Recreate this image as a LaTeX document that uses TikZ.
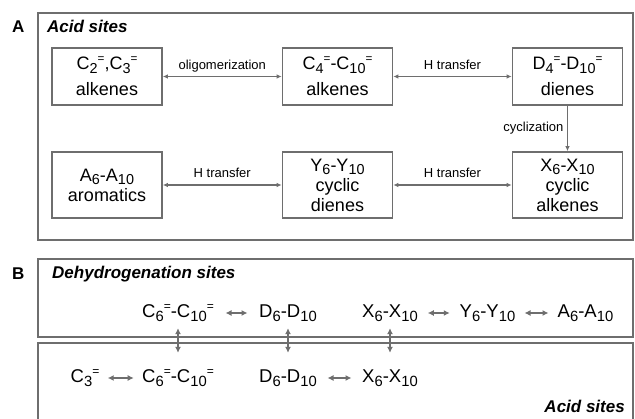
\documentclass[tikz,border=0pt]{standalone}
\usepackage{fontspec}
\setmainfont{Liberation Sans}
\usetikzlibrary{arrows.meta,calc}
\definecolor{edgegray}{RGB}{110,110,110}
\makeatletter
\newcommand\subfont{\fontsize{\fpeval{0.8*\f@size}}{\f@baselineskip}\selectfont}
\newcommand\supfont{\fontsize{\fpeval{0.65*\f@size}}{\f@baselineskip}\selectfont}
\makeatother
\newcommand\chem[3]{#1\raisebox{-0.4ex}{\subfont #2}\raisebox{0.75ex}{\supfont #3}}
\newcommand\chemsub[2]{#1\raisebox{-0.4ex}{\subfont #2}}
\tikzset{%
  panel/.style = {draw=edgegray, line width=1.8pt},%
  box/.style   = {shape=rectangle, draw=edgegray, line width=1.6pt,%
                  align=center, minimum width=110pt, inner sep=0pt,%
                  font=\fontsize{18}{20}\selectfont},%
  item/.style  = {inner sep=1pt, anchor=base, text height=15pt, text depth=5pt,%
                  font=\fontsize{18.5}{19}\selectfont},%
  lbl/.style   = {font=\fontsize{13}{15}\selectfont, text depth=3pt},%
  title/.style = {inner sep=0pt, font=\fontsize{17}{20}\selectfont\bfseries\itshape},%
  tag/.style   = {inner sep=0pt, font=\fontsize{17}{20}\selectfont\bfseries},%
  dbl/.style   = {draw=edgegray, line width=1.5pt,%
                  {Latex[length=5pt,width=4.5pt]}-{Latex[length=5pt,width=4.5pt]}},%
  sdbl/.style  = {draw=edgegray, line width=1.8pt,%
                  {Latex[length=6pt,width=6pt]}-{Latex[length=6pt,width=6pt]}}%
}
\begin{document}
\begin{tikzpicture}[x=1pt,y=-1pt,vdbl/.style={sdbl,shorten <=4pt,shorten >=14pt}]
  \useasboundingbox (0,0) rectangle (635,419);
  % panel A
  \node[tag, anchor=base west] (tagA) at (12,33) {A};
  \draw[panel] (38,13) rectangle (633,240);
  \node[title, anchor=base west] (acidA) at (47,33) {Acid sites};
  \node[box, minimum height=57pt] (c23) at (107,76.5)
    {\chem{C}{2}{=},\chem{C}{3}{=}\\[6pt]alkenes};
  \node[box, minimum height=57pt] (c410) at (337.5,76.5)
    {\chem{C}{4}{=}-\chem{C}{10}{=}\\[6pt]alkenes};
  \node[box, minimum height=57pt] (d410) at (567.5,76.5)
    {\chem{D}{4}{=}-\chem{D}{10}{=}\\[6pt]dienes};
  \node[box, minimum height=66pt] (arom) at (107,185)
    {\chemsub{A}{6}-\chemsub{A}{10}\\aromatics};
  \node[box, minimum height=66pt] (cycd) at (337.5,185)
    {\chemsub{Y}{6}-\chemsub{Y}{10}\\cyclic\\dienes};
  \node[box, minimum height=66pt] (cyca) at (567.5,185)
    {\chemsub{X}{6}-\chemsub{X}{10}\\cyclic\\alkenes};
  \draw[dbl] (c23) -- node[lbl, above] {oligomerization} (c410);
  \draw[dbl] (c410) -- node[lbl, above] {H transfer} (d410);
  \draw[dbl, -{Latex[length=5pt,width=4.5pt]}] (d410) -- node[lbl, left] {cyclization} (cyca);
  \draw[dbl] (arom) -- node[lbl, above] {H transfer} (cycd);
  \draw[dbl] (cycd) -- node[lbl, above] {H transfer} (cyca);
  % panel B
  \node[tag, anchor=base west] (tagB) at (12,280) {B};
  \draw[panel] (38,259) rectangle (633,337);
  \draw[panel] (38,425) -- (38,343) -- (633,343) -- (633,425);
  \node[title, anchor=base west] (dehyd) at (52,279) {Dehydrogenation sites};
  \node[title, anchor=base east] (acidB) at (625,413) {Acid sites};
  % dehydrogenation row
  \node[item] (cd) at (178,318) {\chem{C}{6}{=}-\chem{C}{10}{=}};
  \node[item] (dd) at (288,318) {\chemsub{D}{6}-\chemsub{D}{10}};
  \node[item] (xd) at (390,318) {\chemsub{X}{6}-\chemsub{X}{10}};
  \node[item] (yd) at (487.5,318) {\chemsub{Y}{6}-\chemsub{Y}{10}};
  \node[item] (ad) at (585.5,318) {\chemsub{A}{6}-\chemsub{A}{10}};
  % acid row
  \node[item] (c3) at (85,383) {\chem{C}{3}{=}};
  \node[item] (ca) at (178,383) {\chem{C}{6}{=}-\chem{C}{10}{=}};
  \node[item] (da) at (288,383) {\chemsub{D}{6}-\chemsub{D}{10}};
  \node[item] (xa) at (390,383) {\chemsub{X}{6}-\chemsub{X}{10}};
  \draw[sdbl] ([xshift=-11pt]$(cd.east)!.5!(dd.west)$) -- ([xshift=11pt]$(cd.east)!.5!(dd.west)$);
  \draw[sdbl] ([xshift=-11pt]$(xd.east)!.5!(yd.west)$) -- ([xshift=11pt]$(xd.east)!.5!(yd.west)$);
  \draw[sdbl] ([xshift=-12pt]$(yd.east)!.5!(ad.west)$) -- ([xshift=12pt]$(yd.east)!.5!(ad.west)$);
  \draw[sdbl] ([xshift=-13pt]$(c3.east)!.5!(ca.west)$) -- ([xshift=13pt]$(c3.east)!.5!(ca.west)$);
  \draw[sdbl] ([xshift=-12pt]$(da.east)!.5!(xa.west)$) -- ([xshift=12pt]$(da.east)!.5!(xa.west)$);
  \draw[vdbl] (cd.south) -- (ca.north);
  \draw[vdbl] (dd.south) -- (da.north);
  \draw[vdbl] (xd.south) -- (xa.north);
\end{tikzpicture}
\end{document}
